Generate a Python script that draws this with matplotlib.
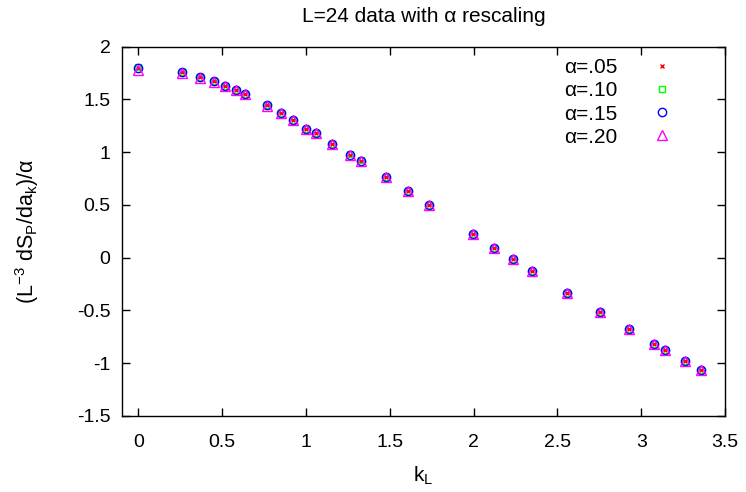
import matplotlib
matplotlib.use("Agg")
import matplotlib.pyplot as plt

plt.rcParams['font.family'] = ['Liberation Sans', 'DejaVu Sans']
plt.rcParams['mathtext.fontset'] = 'custom'
plt.rcParams['mathtext.rm'] = 'Liberation Sans'
plt.rcParams['mathtext.it'] = 'Liberation Sans'

# k_L values (lattice momenta, L=24)
k_L = [0.0, 0.263, 0.369, 0.454, 0.518, 0.580, 0.638, 0.767, 0.853, 0.923,
       1.002, 1.062, 1.156, 1.261, 1.329, 1.476, 1.610, 1.736, 1.995, 2.122,
       2.234, 2.347, 2.556, 2.756, 2.925, 3.076, 3.142, 3.258, 3.356]

# rescaled derivative for each alpha
y_a05 = [1.800, 1.762, 1.712, 1.671, 1.629, 1.588, 1.553, 1.443, 1.373, 1.303,
         1.222, 1.184, 1.078, 0.977, 0.920, 0.764, 0.628, 0.498, 0.226, 0.093,
         -0.015, -0.125, -0.335, -0.519, -0.677, -0.819, -0.880, -0.985, -1.067]
y_a10 = [1.810, 1.765, 1.714, 1.673, 1.630, 1.589, 1.554, 1.444, 1.374, 1.304,
         1.223, 1.185, 1.079, 0.978, 0.921, 0.765, 0.628, 0.498, 0.226, 0.093,
         -0.015, -0.125, -0.335, -0.519, -0.677, -0.819, -0.880, -0.985, -1.067]
y_a15 = [1.800, 1.762, 1.712, 1.671, 1.629, 1.588, 1.553, 1.443, 1.373, 1.303,
         1.222, 1.184, 1.078, 0.977, 0.920, 0.764, 0.628, 0.498, 0.226, 0.093,
         -0.015, -0.125, -0.335, -0.519, -0.677, -0.819, -0.880, -0.985, -1.067]
y_a20 = [1.775, 1.750, 1.707, 1.667, 1.625, 1.585, 1.550, 1.441, 1.372, 1.302,
         1.221, 1.183, 1.077, 0.976, 0.919, 0.764, 0.628, 0.498, 0.226, 0.093,
         -0.015, -0.125, -0.335, -0.519, -0.677, -0.819, -0.880, -0.985, -1.067]

labels = ["α=.05", "α=.10", "α=.15", "α=.20"]

fig = plt.figure(figsize=(7.46, 4.92), dpi=100)
ax = fig.add_axes([0.163, 0.155, 0.809, 0.750])

ax.plot(k_L, y_a05, linestyle='none', marker='x', ms=3.5, mew=1.0, color='#ff0000', label=labels[0])
ax.plot(k_L, y_a10, linestyle='none', marker='s', ms=5, mew=1.0, mfc='none', color='#00ff00', label=labels[1])
ax.plot(k_L, y_a15, linestyle='none', marker='o', ms=6, mew=1.0, mfc='none', color='#0000ff', label=labels[2])
ax.plot(k_L, y_a20, linestyle='none', marker='^', ms=6.5, mew=1.0, mfc='none', color='#ff00ff', label=labels[3])

ax.set_xlim(-0.1, 3.5)
ax.set_ylim(-1.5, 2)
ax.set_xticks([0, 0.5, 1, 1.5, 2, 2.5, 3, 3.5])
ax.set_xticklabels(["0", "0.5", "1", "1.5", "2", "2.5", "3", "3.5"])
ax.set_yticks([-1.5, -1, -0.5, 0, 0.5, 1, 1.5, 2])
ax.set_yticklabels(["-1.5", "-1", "-0.5", "0", "0.5", "1", "1.5", "2"])
ax.tick_params(direction='in', length=6, width=1, top=True, right=True,
               labelsize=14)
ax.tick_params(axis='x', pad=13)
ax.tick_params(axis='y', pad=8)
for s in ax.spines.values():
    s.set_linewidth(1.0)

ax.set_title("L=24 data with α rescaling", fontsize=15, pad=18)
ax.set_xlabel("k$_\\mathregular{L}$", fontsize=15, labelpad=10)
ax.set_ylabel("(L$^\\mathregular{-3}$ dS$_\\mathregular{P}$/da$_\\mathregular{k}$)/α",
              fontsize=15.5, labelpad=26)

ax.legend(loc='upper right', bbox_to_anchor=(0.912, 0.969), frameon=False,
          markerfirst=False, fontsize=15, handletextpad=1.6, labelspacing=0.2,
          handlelength=1.0, borderaxespad=0, borderpad=0)

fig.savefig("out.png", dpi=100)
